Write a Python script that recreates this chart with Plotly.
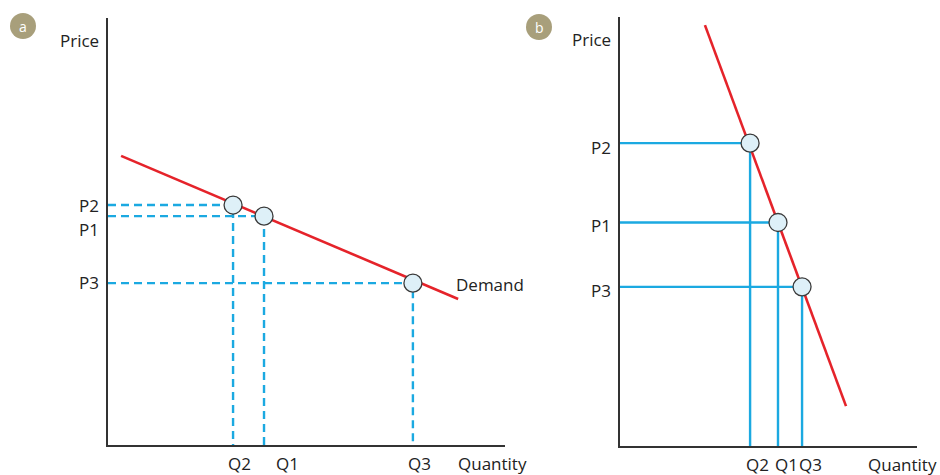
import plotly.graph_objects as go

# ---------------- data ----------------
# Panel a (elastic demand) - units on a 0..10 scale
a_demand_q = [0.33, 8.82]
a_demand_p = [6.77, 3.42]
a_labels_q = ["Q1", "Q2", "Q3"]
a_labels_p = ["P1", "P2", "P3"]
a_q = [3.93, 3.15, 7.68]
a_p = [5.36, 5.62, 3.79]

# Panel b (inelastic demand)
b_demand_q = [2.86, 7.61]
b_demand_p = [9.81, 0.93]
b_labels_q = ["Q1", "Q2", "Q3"]
b_labels_p = ["P1", "P2", "P3"]
b_q = [5.32, 4.38, 6.13]
b_p = [5.21, 7.06, 3.71]

# ---------------- style ----------------
FONT = "Open Sans"
FS = 17
TXT = "#222222"
BLUE = "#1ba9e1"
RED = "#e5232a"
AX = "#333333"
BADGE = "#a89f7b"
W, H = 940, 475

fig = go.Figure()

def add_panel(xa, ya, dq, dp, qs, ps, dash):
    xr = "x" if xa == "xaxis" else "x2"
    yr = "y" if ya == "yaxis" else "y2"
    for q, p in zip(qs, ps):
        fig.add_trace(go.Scatter(x=[0, q, q], y=[p, p, 0], mode="lines",
                                 line=dict(color=BLUE, width=2.4, dash=dash),
                                 xaxis=xr, yaxis=yr, hoverinfo="skip"))
    fig.add_trace(go.Scatter(x=dq, y=dp, mode="lines",
                             line=dict(color=RED, width=2.6),
                             xaxis=xr, yaxis=yr, hoverinfo="skip"))
    fig.add_trace(go.Scatter(x=qs, y=ps, mode="markers",
                             marker=dict(size=18, color="#def0f8",
                                         line=dict(color="#3a3a3a", width=1.3)),
                             xaxis=xr, yaxis=yr, hoverinfo="skip"))

add_panel("xaxis", "yaxis", a_demand_q, a_demand_p, a_q, a_p, "8px,5px")
add_panel("xaxis2", "yaxis2", b_demand_q, b_demand_p, b_q, b_p, "solid")

def px_dom_x(a, b):
    return [a / W, b / W]

def px_dom_y(top, bottom):
    return [(H - bottom) / H, (H - top) / H]

axis_common = dict(showgrid=False, zeroline=False, showticklabels=False,
                   ticks="", showline=True, linecolor=AX, linewidth=1.6,
                   range=[0, 10], fixedrange=True)

fig.update_layout(
    width=W, height=H,
    margin=dict(l=0, r=0, t=0, b=0),
    paper_bgcolor="white", plot_bgcolor="white",
    showlegend=False,
    font=dict(family=FONT, size=FS, color=TXT),
    xaxis=dict(domain=px_dom_x(108, 505), anchor="y", **axis_common),
    yaxis=dict(domain=px_dom_y(18, 445), anchor="x", **axis_common),
    xaxis2=dict(domain=px_dom_x(620, 917), anchor="y2", **axis_common),
    yaxis2=dict(domain=px_dom_y(17, 446), anchor="x2", **axis_common),
)

ann = []

def text(**kw):
    d = dict(showarrow=False, borderpad=0,
             font=dict(family=FONT, size=FS, color=TXT))
    d.update(kw)
    ann.append(d)

BOTTOM_SHIFT = -6

# quantity tick labels (x shifts reproduce the offset placement in the source)
a_qshift = {"Q1": 23, "Q2": 6, "Q3": 7}
b_qshift = {"Q1": 8, "Q2": 7, "Q3": 8}
for lab, q in zip(a_labels_q, a_q):
    text(text=lab, x=q, xref="x", y=0, yref="y domain", xanchor="center",
         yanchor="top", xshift=a_qshift[lab], yshift=BOTTOM_SHIFT)
for lab, q in zip(b_labels_q, b_q):
    text(text=lab, x=q, xref="x2", y=0, yref="y2 domain", xanchor="center",
         yanchor="top", xshift=b_qshift[lab], yshift=BOTTOM_SHIFT)

# price tick labels
a_pshift = {"P1": -13, "P2": 0, "P3": 1}
b_pshift = {"P1": -3, "P2": -4, "P3": -4}
for lab, p in zip(a_labels_p, a_p):
    text(text=lab, x=0, xref="x domain", y=p, yref="y", xanchor="right",
         yanchor="middle", xshift=-8, yshift=a_pshift[lab])
for lab, p in zip(b_labels_p, b_p):
    text(text=lab, x=0, xref="x2 domain", y=p, yref="y2", xanchor="right",
         yanchor="middle", xshift=-8, yshift=b_pshift[lab])

# axis titles
text(text="Price", x=0, xref="x domain", y=1, yref="y domain",
     xanchor="right", yanchor="middle", xshift=-8, yshift=-22)
text(text="Price", x=0, xref="x2 domain", y=1, yref="y2 domain",
     xanchor="right", yanchor="middle", xshift=-8, yshift=-23)
text(text="Quantity", x=1, xref="x domain", y=0, yref="y domain",
     xanchor="right", yanchor="top", xshift=23, yshift=BOTTOM_SHIFT)
text(text="Quantity", x=1, xref="x2 domain", y=0, yref="y2 domain",
     xanchor="right", yanchor="top", xshift=21, yshift=BOTTOM_SHIFT)

# demand label
text(text="Demand", x=a_demand_q[1], xref="x", y=a_demand_p[1], yref="y",
     xanchor="left", yanchor="middle", xshift=-3, yshift=14)

# panel badges
for letter, cx, cy in [("a", 23, 26), ("b", 539, 27)]:
    r = 13
    fig.add_shape(type="circle", xref="paper", yref="paper",
                  x0=(cx - r) / W, x1=(cx + r) / W,
                  y0=(H - cy - r) / H, y1=(H - cy + r) / H,
                  fillcolor=BADGE, line=dict(width=0), layer="above")
    ann.append(dict(text=letter, x=cx / W, y=(H - cy) / H, xref="paper",
                    yref="paper", showarrow=False, xanchor="center",
                    yanchor="middle",
                    font=dict(family=FONT, size=14, color="white")))

fig.update_layout(annotations=ann)

fig.write_html("out.html", config={"displayModeBar": False},
               post_script="document.body.style.margin='0';"
                           "document.body.style.overflow='hidden';")
